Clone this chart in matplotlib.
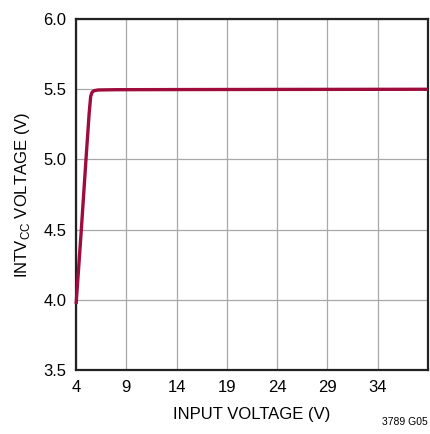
import numpy as np
import matplotlib as mpl
import matplotlib.pyplot as plt

# INTVcc vs input voltage
vin = [4.0, 4.5, 5.0, 5.3, 5.45, 5.6, 5.8, 6.2, 8.0, 15.0, 25.0, 39.0]
vcc = [3.97, 4.48, 5.02, 5.33, 5.45, 5.48, 5.49, 5.495, 5.497, 5.498, 5.499, 5.50]

xticks = [4, 9, 14, 19, 24, 29, 34]
yticks = [3.5, 4.0, 4.5, 5.0, 5.5, 6.0]

plt.rcParams['font.family'] = ['Liberation Sans', 'DejaVu Sans']
plt.rcParams['mathtext.fontset'] = 'custom'
plt.rcParams['mathtext.rm'] = 'Liberation Sans'

fig = plt.figure(figsize=(4.3, 4.34), dpi=100)
ax = fig.add_axes([0.177, 0.1475, 0.818, 0.8085])
ax.plot(vin, vcc, c="#9e0c3c", lw=2.4, solid_capstyle="butt", zorder=3, clip_on=False)

ax.set_xlim(4, 39)
ax.set_ylim(3.5, 6.0)
ax.set_xticks(xticks + [39])
ax.set_xticklabels([str(t) for t in xticks] + [""])
ax.set_yticks(yticks)
ax.set_yticklabels(["%.1f" % t for t in yticks])
ax.tick_params(length=0, labelsize=12, pad=7)
ax.grid(True, color="#a8a8a8", lw=0.9)
for s in ax.spines.values():
    s.set_linewidth(1.6)
    s.set_color("#222222")

ax.set_xlabel("INPUT VOLTAGE (V)", fontsize=12, labelpad=9)
ax.set_ylabel(r"INTV$_{\mathrm{CC}}$ VOLTAGE (V)", fontsize=12, labelpad=8)
fig.text(0.995, 0.015, "3789 G05", fontsize=7.5, ha="right", va="bottom")

fig.savefig("out.png", dpi=100)
